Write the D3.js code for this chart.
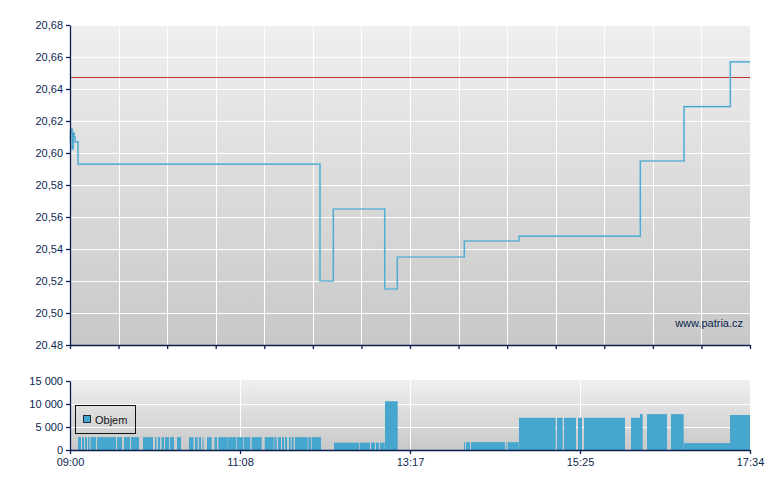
<!DOCTYPE html>
<html><head><meta charset="utf-8">
<script src="https://cdn.jsdelivr.net/npm/d3@7/dist/d3.min.js"></script>
<style>
html,body{margin:0;padding:0;background:#fff;}
svg text{font-family:"Liberation Sans",Arial,sans-serif;font-size:11px;fill:#0b1f4f;}
</style></head><body>
<svg id="c" width="780" height="490"></svg>
<script>
// ---- data ----
const priceTimes = ["09:00:00","09:00:20","09:01:00","09:01:40","09:02:25","09:03:10","09:03:50","09:06:03","12:08:58","12:19:01","12:57:53","13:07:24","13:58:03","14:39:24","16:11:05","16:44:07","17:19:07","17:34:00"];
const priceValues = [20.607,20.613,20.615,20.6025,20.6125,20.610,20.607,20.593,20.520,20.565,20.515,20.535,20.545,20.548,20.595,20.629,20.657,20.657];
const refPrice = 20.6475;
const priceTicks = [20.48,20.50,20.52,20.54,20.56,20.58,20.60,20.62,20.64,20.66,20.68];
const priceTickLabels = ["20.48","20,50","20,52","20,54","20,56","20,58","20,60","20,62","20,64","20,66","20,68"];

const volStart = ["09:06:03","09:09:04","09:11:20","09:13:36","09:15:30","09:20:25","09:35:32","09:40:49","09:46:07","09:55:11","10:04:15","10:06:31","10:09:10","10:11:49","10:15:35","10:20:53","10:29:57","10:34:29","10:37:31","10:40:09","10:43:33","10:49:14","10:52:06","10:58:54","11:06:14","11:11:31","11:17:21","11:27:10","11:34:26","11:37:13","11:40:15","11:42:31","11:45:32","11:47:35","11:50:04","12:00:08","12:02:42",
  "12:19:33","12:39:12","12:47:31","12:51:18","12:54:19",
  "12:58:06",
  "13:57:49","13:59:20","14:03:07","14:29:34","14:30:51",
  "14:39:24","15:08:07","15:13:24","15:23:59","15:28:31","16:04:03",
  "16:10:51","16:16:09","16:34:17",
  "16:43:53",
  "17:18:53"];
const volEnd = ["09:08:19","09:10:35","09:12:51","09:14:44","09:19:39","09:34:46","09:39:18","09:45:21","09:52:09","10:02:44","10:05:23","10:08:02","10:11:03","10:14:50","10:18:37","10:23:54","10:33:21","10:36:32","10:39:01","10:40:55","10:47:07","10:51:07","10:58:40","11:05:42","11:11:00","11:16:17","11:24:54","11:33:58","11:36:14","11:39:30","11:41:46","11:44:02","11:46:49","11:49:05","11:59:40","12:02:10","12:09:44",
  "12:38:41","12:46:46","12:50:33","12:53:34","12:57:53",
  "13:07:42",
  "13:58:34","14:02:21","14:28:49","14:30:06","14:39:10",
  "15:07:08","15:12:25","15:22:29","15:27:01","15:59:31","16:10:51",
  "16:12:54","16:31:16","16:43:53",
  "17:18:53",
  "17:34:00"];
const volValues = [2800,2800,2800,2800,2800,2800,2800,2800,2800,2800,2800,2800,2800,2800,2800,2800,2800,2800,2800,2800,2800,2800,2800,2800,2800,2800,2800,2800,2800,2800,2800,2800,2800,2800,2800,2800,2800,
  1600,1600,1600,1600,1600,
  10600,
  1700,1700,1700,1700,1700,
  7000,7000,7000,7000,7000,7000,
  7800,7800,7800,
  1500,
  7600];
const volTicks = [0,5000,10000,15000];
const volTickLabels = ["0","5 000","10 000","15 000"];
const sessionStart = "09:00:00", sessionEnd = "17:34:00";
const seriesName = "Objem";
const watermark = "www.patria.cz";

// ---- chart ----
const parseT = d3.timeParse("%H:%M:%S");
const svg = d3.select("#c");
const L = 70, R = 750;
const t0 = parseT(sessionStart), t1 = parseT(sessionEnd);
const x = d3.scaleTime().domain([t0, t1]).range([L, R]);
const navy = "#0b1f4f";
const blue = "#47a6ce";

const defs = svg.append("defs");
const g1 = defs.append("linearGradient").attr("id","bg").attr("x1",0).attr("y1",0).attr("x2",0).attr("y2",1);
g1.append("stop").attr("offset","0%").attr("stop-color","#efefef");
g1.append("stop").attr("offset","100%").attr("stop-color","#c8c8c8");

// top chart
const pTop = 25, pBot = 345;
const y = d3.scaleLinear().domain([20.48, 20.68]).range([pBot, pTop]);
svg.append("rect").attr("x",L).attr("y",pTop).attr("width",R-L).attr("height",pBot-pTop).attr("fill","url(#bg)");
const xTicksTop = d3.range(15).map(i => new Date(+t0 + i*(t1-t0)/14));
const grid = svg.append("g").attr("stroke","#fff").attr("stroke-width",1.5).attr("shape-rendering","crispEdges");
xTicksTop.slice(1,-1).forEach(t => grid.append("line").attr("x1",Math.round(x(t))+0.5).attr("x2",Math.round(x(t))+0.5).attr("y1",pTop).attr("y2",pBot));
priceTicks.slice(1).forEach(v => grid.append("line").attr("x1",L).attr("x2",R).attr("y1",Math.round(y(v))+0.5).attr("y2",Math.round(y(v))+0.5));

svg.append("line").attr("x1",L).attr("x2",R).attr("y1",Math.round(y(refPrice))+0.5).attr("y2",Math.round(y(refPrice))+0.5)
  .attr("stroke","#c0352f").attr("stroke-width",1);

const pts = priceTimes.map((t,i) => [parseT(t), priceValues[i]]);
const line = d3.line().x(d => x(d[0])).y(d => y(d[1])).curve(d3.curveStepAfter);
svg.append("path").attr("d", line(pts)).attr("fill","none").attr("stroke","#a7cfe2").attr("stroke-width",2.2).attr("opacity",0.6);
svg.append("path").attr("d", line(pts)).attr("fill","none").attr("stroke",blue).attr("stroke-width",1.2);

const yAxis = d3.axisLeft(y).tickValues(priceTicks).tickSize(4).tickSizeOuter(0).tickPadding(3)
  .tickFormat((d,i) => priceTickLabels[i]);
const ya = svg.append("g").attr("transform",`translate(${L},0)`).call(yAxis);
const xAxisTop = d3.axisBottom(x).tickValues(xTicksTop).tickSize(4).tickSizeOuter(0).tickFormat("");
const xa = svg.append("g").attr("transform",`translate(0,${pBot})`).call(xAxisTop);

svg.append("text").attr("x",743).attr("y",327).attr("text-anchor","end").text(watermark);

// bottom chart
const vTop = 381, vBot = 450;
const yv = d3.scaleLinear().domain([0, 15000]).range([vBot, vTop]);
svg.append("rect").attr("x",L).attr("y",vTop-1).attr("width",R-L).attr("height",vBot-vTop+1).attr("fill","url(#bg)");
const xTicksBot = d3.range(5).map(i => new Date(+t0 + i*(t1-t0)/4));
const grid2 = svg.append("g").attr("stroke","#fff").attr("stroke-width",1.5).attr("shape-rendering","crispEdges");
xTicksBot.slice(1,-1).forEach(t => grid2.append("line").attr("x1",Math.round(x(t))+0.5).attr("x2",Math.round(x(t))+0.5).attr("y1",vTop-1).attr("y2",vBot));
volTicks.slice(1,-1).forEach(v => grid2.append("line").attr("x1",L).attr("x2",R).attr("y1",Math.round(yv(v))+0.5).attr("y2",Math.round(yv(v))+0.5));

const bars = volStart.map((s,i) => ({s: parseT(s), e: parseT(volEnd[i]), v: volValues[i]}));
svg.append("g").selectAll("rect").data(bars).join("rect")
  .attr("x", d => x(d.s)).attr("width", d => Math.max(0.6, x(d.e) - x(d.s)))
  .attr("y", d => yv(d.v)).attr("height", d => vBot - yv(d.v))
  .attr("fill", blue);

const yvAxis = d3.axisLeft(yv).tickValues(volTicks).tickSize(4).tickSizeOuter(0).tickPadding(3)
  .tickFormat((d,i) => volTickLabels[i]);
svg.append("g").attr("transform",`translate(${L},0)`).call(yvAxis);
const xAxisBot = d3.axisBottom(x).tickValues(xTicksBot).tickSize(4).tickSizeOuter(0).tickPadding(4)
  .tickFormat(d3.timeFormat("%H:%M"));
svg.append("g").attr("transform",`translate(0,${vBot})`).call(xAxisBot);

svg.selectAll(".domain").attr("stroke",navy).attr("stroke-width",1.3);
svg.selectAll(".tick line").attr("stroke",navy).attr("stroke-width",1.3);
svg.selectAll(".tick text").attr("fill",navy).style("font-size","11px");

// legend
const lg = svg.append("g");
lg.append("rect").attr("x",75.5).attr("y",405.5).attr("width",60).attr("height",28).attr("fill","none").attr("stroke","#111").attr("stroke-width",1);
lg.append("rect").attr("x",83.5).attr("y",415.5).attr("width",7).attr("height",7).attr("fill",blue).attr("stroke","#1a2a40").attr("stroke-width",1);
lg.append("text").attr("x",95).attr("y",423.5).text(seriesName).style("fill","#111");
</script>
</body></html>
